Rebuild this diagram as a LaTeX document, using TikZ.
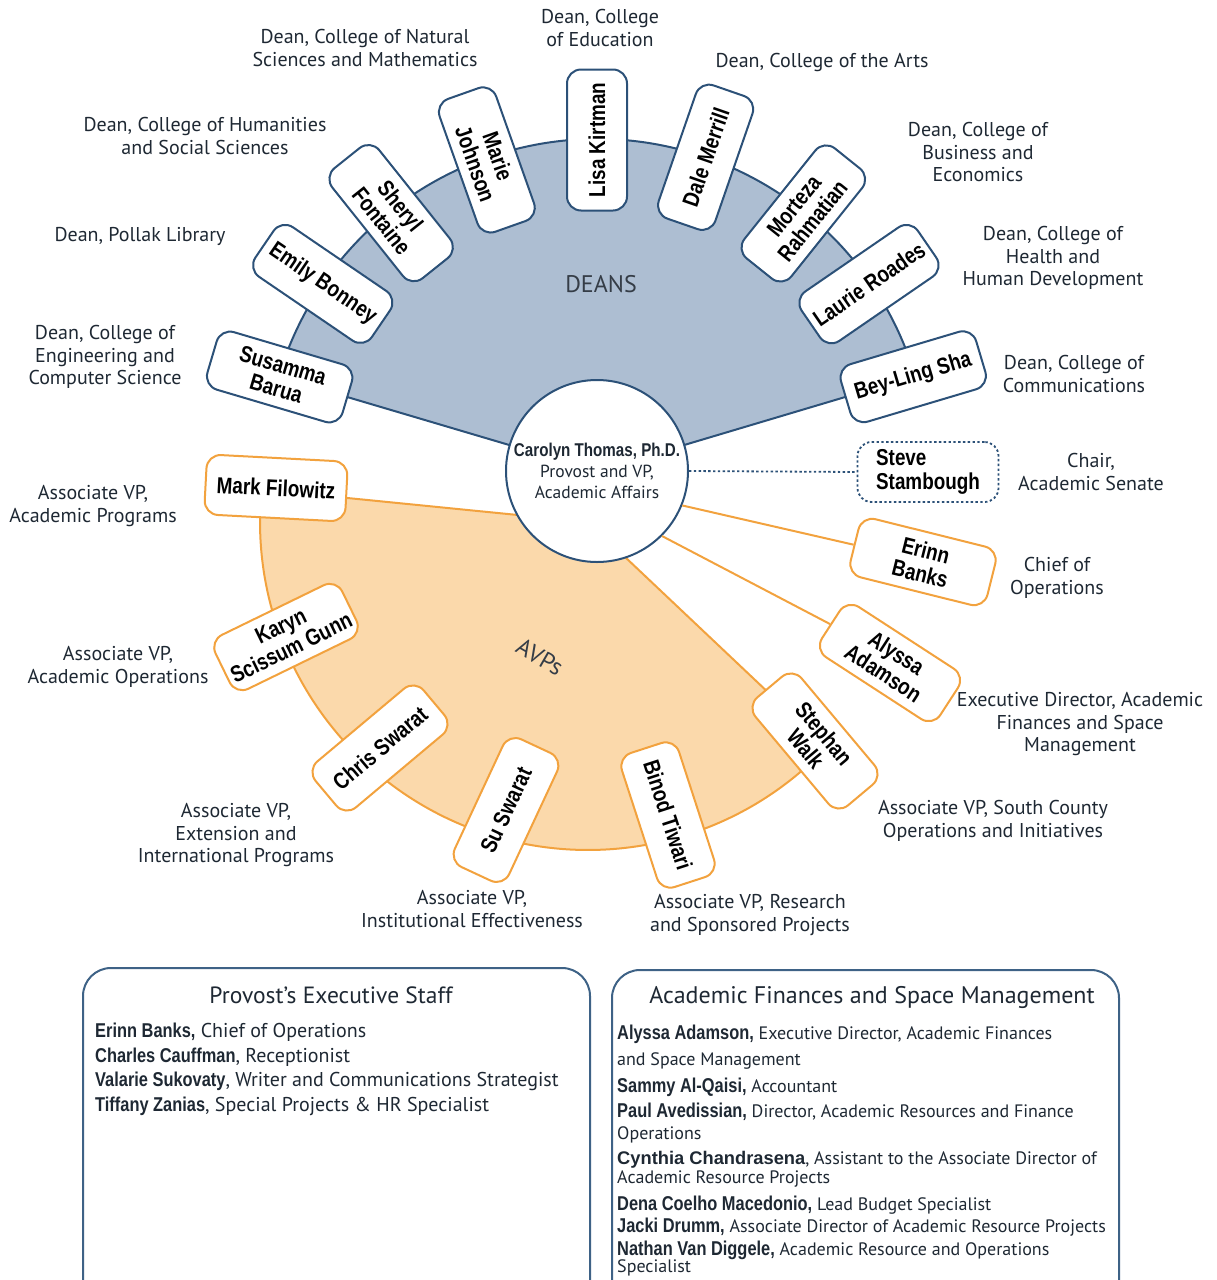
\documentclass[tikz,border=0pt]{standalone}
\usepackage{fontspec}
\setmainfont{PT Sans}
\newfontfamily\namefont[FakeStretch=0.82]{Liberation Sans}
\newfontfamily\widebold{Liberation Sans}
\usetikzlibrary{calc}
\definecolor{deanline}{HTML}{2C5178}
\definecolor{deanfill}{HTML}{ADBED2}
\definecolor{avpline}{HTML}{F2A23E}
\definecolor{avpfill}{HTML}{FBD9AB}
\definecolor{labeltext}{HTML}{1E2833}
\definecolor{boxline}{HTML}{3E6286}
\newcommand\nmf{\namefont\bfseries}
\begin{document}
\begin{tikzpicture}[x=1pt,y=1pt,
  lbl/.style={align=center, inner sep=0pt, text=labeltext, font=\fontsize{20}{22.5}\selectfont},
  deanbox/.style={draw=deanline, line width=2pt, fill=white, rounded corners=14pt,
    minimum width=141pt, minimum height=60pt, align=center, inner sep=2pt,
    font=\nmf\fontsize{23}{24}\selectfont},
  avpbox/.style={deanbox, draw=avpline},
  conn/.style={draw=avpline, line width=2pt},
  pstext/.style={anchor=base west, inner sep=0pt, text=labeltext, font=\fontsize{20}{22}\selectfont},
  aftext/.style={anchor=base west, inner sep=0pt, text=labeltext, font=\fontsize{18}{20}\selectfont},
  frame/.style={draw=boxline, line width=2pt, rounded corners=28pt}
]
\useasboundingbox (0,0) rectangle (1216,-1280);
\clip (0,0) rectangle (1216,-1280);
\coordinate (C) at (597,-471);
\coordinate (A) at (588,-522);
% sectors
\filldraw[fill=deanfill, draw=deanline, line width=2pt]
  (C) -- ($(C)+(16.6:332)$) arc[start angle=16.6, end angle=163.5, radius=332] -- cycle;
\filldraw[fill=avpfill, draw=avpline, line width=2pt]
  (A) -- ($(A)+(-43.4:328)$) arc[start angle=-43.4, end angle=-185.7, radius=328] -- cycle;
% centre
\node[circle, draw=deanline, line width=2pt, fill=white, minimum size=182pt, inner sep=0pt,
  align=center, text=labeltext, font=\fontsize{17.5}{21}\selectfont] (prov) at (C)
  {{\nmf\fontsize{18.5}{21}\selectfont Carolyn Thomas, Ph.D.}\\Provost and VP,\\Academic Affairs};
\node[text=labeltext!90, font=\fontsize{24}{28}\selectfont] (deans) at (601,-284) {DEANS};
\node[text=labeltext!90, rotate=-30, font=\fontsize{24}{28}\selectfont] (avps) at (540,-657) {AVPs};
% dean boxes
\node[deanbox, rotate=-16.5] (susamma) at ($(C)+(163.5:331)$) {Susamma\\Barua};
\node[deanbox, rotate=-34.3] (emily) at ($(C)+(145.7:332)$) {Emily Bonney};
\node[deanbox, rotate=-51.4] (sheryl) at ($(C)+(128.6:330)$) {Sheryl\\Fontaine};
\node[deanbox, rotate=-70.5] (marie) at ($(C)+(109.5:330)$) {Marie\\Johnson};
\node[deanbox, rotate=90] (lisa) at ($(C)+(90:331)$) {Lisa Kirtman};
\node[deanbox, rotate=70.9] (dale) at ($(C)+(70.9:332)$) {Dale Merrill};
\node[deanbox, rotate=51.3] (morteza) at ($(C)+(51.3:330)$) {Morteza\\Rahmatian};
\node[deanbox, rotate=34.5] (laurie) at ($(C)+(34.5:330)$) {Laurie Roades};
\node[deanbox, rotate=16.6] (beyling) at ($(C)+(16.6:330)$) {Bey-Ling Sha};
% avp boxes
\node[avpbox, rotate=-3] (mark) at (276,-488) {Mark Filowitz};
\node[avpbox, rotate=26] (karyn) at (286,-637) {Karyn\\Scissum Gunn};
\node[avpbox, rotate=40] (chris) at (380,-748) {Chris Swarat};
\node[avpbox, rotate=65] (su) at (506,-810) {Su Swarat};
\node[avpbox, rotate=-72] (binod) at (668,-815) {Binod Tiwari};
\node[avpbox, rotate=-50] (stephan) at (815,-741) {Stephan\\Walk};
\node[avpbox, rotate=-14] (erinn) at (923,-562) {Erinn\\Banks};
\node[avpbox, rotate=-33] (alyssa) at (890,-663) {Alyssa\\Adamson};
\node[deanbox, dash pattern=on 2.4pt off 2.4pt, line width=1.8pt, align=left] (steve) at (928,-472) {Steve\\Stambough};
% connectors
\draw[conn] (prov.-22) -- (erinn.west);
\draw[conn] (prov.-45) -- (alyssa.west);
\draw[draw=deanline, line width=1.8pt, dash pattern=on 2.4pt off 2.4pt] (prov.east) -- (steve.west);
% labels
\node[lbl] (l1) at (365,-48) {Dean, College of Natural\\Sciences and Mathematics};
\node[lbl] (l2) at (600,-28) {Dean, College\\of Education};
\node[lbl] (l3) at (822,-62) {Dean, College of the Arts};
\node[lbl] (l4) at (978,-152) {Dean, College of\\Business and\\Economics};
\node[lbl] (l5) at (1053,-258) {Dean, College of\\Health and\\Human Development};
\node[lbl] (l6) at (1074,-374) {Dean, College of\\Communications};
\node[lbl] (l7) at (205,-136) {Dean, College of Humanities\\and Social Sciences};
\node[lbl] (l8) at (140,-236) {Dean, Pollak Library};
\node[lbl] (l9) at (105,-357) {Dean, College of\\Engineering and\\Computer Science};
\node[lbl] (l10) at (1091,-472) {Chair,\\Academic Senate};
\node[lbl] (l11) at (1057,-578) {Chief of\\Operations};
\node[lbl] (l12) at (1080,-724) {Executive Director, Academic\\Finances and Space\\Management};
\node[lbl] (l13) at (993,-821) {Associate VP, South County\\Operations and Initiatives};
\node[lbl] (l14) at (750,-915) {Associate VP, Research\\and Sponsored Projects};
\node[lbl] (l15) at (472,-909) {Associate VP,\\Institutional Effectiveness};
\node[lbl] (l16) at (236,-835) {Associate VP,\\Extension and\\International Programs};
\node[lbl] (l17) at (118,-667) {Associate VP,\\Academic Operations};
\node[lbl] (l18) at (93,-506) {Associate VP,\\Academic Programs};
% bottom boxes
\draw[frame] (83,-968) rectangle (590,-1330);
\draw[frame] (612,-970) rectangle (1119,-1330);
\node[text=labeltext, font=\fontsize{23.5}{26}\selectfont] (pstitle) at (331,-995) {Provost’s Executive Staff};
\node[pstext] (ps1) at (95,-1037) {{\nmf\fontsize{20}{22}\selectfont Erinn Banks,} Chief of Operations};
\node[pstext] (ps2) at (95,-1062) {{\nmf\fontsize{20}{22}\selectfont Charles Cauffman}, Receptionist};
\node[pstext] (ps3) at (95,-1086) {{\nmf\fontsize{20}{22}\selectfont Valarie Sukovaty}, Writer and Communications Strategist};
\node[pstext] (ps4) at (95,-1111) {{\nmf\fontsize{20}{22}\selectfont Tiffany Zanias}, Special Projects \& HR Specialist};
\node[text=labeltext, font=\fontsize{24}{26}\selectfont] (aftitle) at (872,-997) {Academic Finances and Space Management};
\node[aftext] (af1) at (617,-1039) {{\nmf\fontsize{20}{22}\selectfont Alyssa Adamson,} Executive Director, Academic Finances};
\node[aftext] (af2) at (617,-1065) {and Space Management};
\node[aftext] (af3) at (617,-1092) {{\nmf\fontsize{20}{22}\selectfont Sammy Al-Qaisi,} Accountant};
\node[aftext] (af4) at (617,-1117) {{\nmf\fontsize{20}{22}\selectfont Paul Avedissian,} Director, Academic Resources and Finance};
\node[aftext] (af5) at (617,-1139) {Operations};
\node[aftext] (af6) at (617,-1164) {{\widebold\bfseries\fontsize{18.3}{20}\selectfont Cynthia Chandrasena}, Assistant to the Associate Director of};
\node[aftext] (af7) at (617,-1183) {Academic Resource Projects};
\node[aftext] (af8) at (617,-1210) {{\nmf\fontsize{20}{22}\selectfont Dena Coelho Macedonio,} Lead Budget Specialist};
\node[aftext] (af9) at (617,-1232) {{\nmf\fontsize{20}{22}\selectfont Jacki Drumm,} Associate Director of Academic Resource Projects};
\node[aftext] (af10) at (617,-1255) {{\nmf\fontsize{20}{22}\selectfont Nathan Van Diggele,} Academic Resource and Operations};
\node[aftext] (af11) at (617,-1272) {Specialist};
\end{tikzpicture}
\end{document}
